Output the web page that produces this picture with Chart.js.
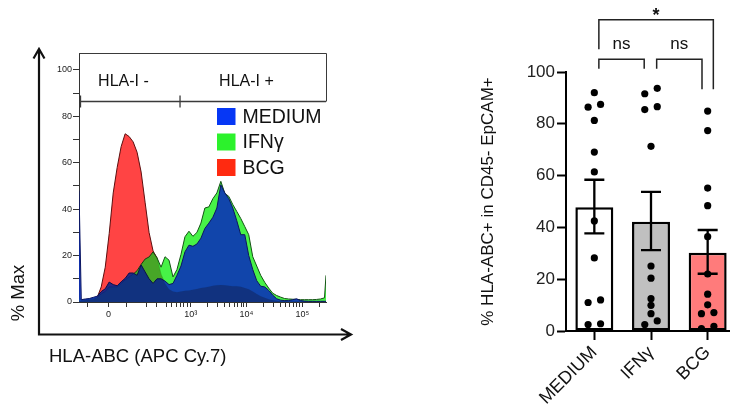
<!DOCTYPE html>
<html>
<head>
<meta charset="utf-8">
<script src="https://cdn.jsdelivr.net/npm/chart.js@4.4.1/dist/chart.umd.min.js"></script>
<style>
  html, body { margin: 0; padding: 0; width: 730px; height: 414px; overflow: hidden; background: #fff; }
  #hist { position: absolute; left: 0; top: 0; }
  #bars { position: absolute; left: 470px; top: 0; }
</style>
</head>
<body>
<canvas id="hist" width="360" height="414"></canvas>
<canvas id="bars" width="270" height="414"></canvas>
<script>
// ---------- left: HLA-ABC histogram overlay ----------
// x in display decades of the logicle axis (0 sits near 1.53, 10^3 at 3)
const histX = [1.0, 1.041, 1.113, 1.184, 1.255, 1.327, 1.398, 1.470, 1.541, 1.613, 1.684, 1.755, 1.827, 1.898, 1.970, 2.041,
  2.113, 2.184, 2.255, 2.327, 2.398, 2.470, 2.541, 2.613, 2.684, 2.755, 2.827, 2.898, 2.970, 3.041, 3.113, 3.184,
  3.255, 3.327, 3.398, 3.470, 3.541, 3.613, 3.684, 3.755, 3.827, 3.898, 3.970, 4.041, 4.113, 4.184, 4.255, 4.327,
  4.398, 4.470, 4.541, 4.613, 4.684, 4.755, 4.827, 4.898, 4.970, 5.041, 5.113, 5.184, 5.255, 5.327, 5.398, 5.425];
const histMedium = [48, 1.0, 1.3, 1.5, 2.0, 2.5, 4.5, 5.7, 8.6, 7.5, 7.0, 8.7, 10.2, 12.5, 12.5, 11.5,
  16.0, 13.0, 10.0, 8.0, 10.0, 10.0, 9.0, 7.5, 8.0, 11.5, 15.5, 21.6, 24.5, 24.0, 25.0, 27.5,
  31.7, 34.0, 36.5, 40.5, 50.5, 47.0, 44.5, 40.5, 35.0, 29.0, 29.0, 20.0, 14.0, 9.2, 6.8, 6.5,
  5.0, 3.0, 1.4, 0.8, 0.6, 0.6, 1.0, 1.4, 0.6, 0.4, 0.3, 0.3, 0.3, 0.3, 0.3, 0.3];
const histIfng = [2.0, 0.8, 1.0, 1.2, 1.5, 2.0, 3.5, 4.5, 6.5, 6.5, 6.5, 8.0, 9.5, 10.8, 12.0, 13.5,
  16.2, 18.5, 19.4, 21.6, 19.0, 15.0, 19.5, 18.0, 10.8, 14.0, 20.5, 28.1, 30.5, 28.3, 30.0, 34.0,
  40.5, 41.0, 44.5, 47.0, 52.0, 46.8, 45.5, 42.0, 39.0, 36.0, 32.5, 29.0, 19.5, 15.5, 11.5, 8.5,
  6.0, 3.8, 2.8, 2.1, 1.5, 1.3, 1.2, 1.1, 1.0, 1.0, 1.0, 1.0, 1.1, 1.3, 1.8, 11.5];
const histBcg = [0.3, 0.5, 0.8, 1.0, 1.2, 2.0, 6.5, 15, 29.5, 47, 58, 67, 72.5, 71.3, 69, 64.5,
  56, 43, 30, 22, 19, 12, 8, 5.5, 4.5, 4.2, 4.5, 4.8, 5.0, 5.3, 5.6, 6.0,
  6.3, 6.6, 7.0, 7.2, 7.3, 7.2, 7.0, 6.8, 6.8, 6.6, 6.0, 5.5, 4.5, 3.5, 2.5, 1.8,
  1.2, 0.8, 0.5, 0.3, 0.3, 0.2, 0.2, 0.2, 0.2, 0.2, 0.2, 0.2, 0.2, 0.2, 0.2, 0.2];
const histXTicks = [1.154, 1.529, 1.857, 2.214, 2.393, 2.571, 2.661, 2.75, 2.821, 2.88, 2.939, 3,
  3.301, 3.477, 3.602, 3.699, 3.778, 3.845, 3.903, 3.954, 4,
  4.301, 4.477, 4.602, 4.699, 4.778, 4.845, 4.903, 4.954, 5, 5.301];
const histXTickLabels = ['', '0', '', '', '', '', '', '', '', '', '', '10³',
  '', '', '', '', '', '', '', '', '10⁴',
  '', '', '', '', '', '', '', '', '10⁵', ''];
const histYTicks = [0, 10, 20, 30, 40, 50, 60, 70, 80, 90, 100];
const histYTickLabels = ['0', '', '20', '', '40', '', '60', '', '80', '', '100'];
const gateNames = ['HLA-I -', 'HLA-I +'];

// ---------- right: bar chart ----------
const groups = ['MEDIUM', 'IFNγ', 'BCG'];
const groupMean = [47.8, 42.2, 30.2];
const groupSemHigh = [58.4, 53.7, 39.0];
const groupSemLow = [37.7, 31.2, 22.1];
const ptsMedium = [92.0, 86.4, 87.5, 81.3, 69.1, 61.4, 42.5, 28.2, 11.0, 12.0, 2.5, 2.8];
const ptsIfng = [91.6, 93.7, 85.5, 86.6, 71.3, 25.1, 20.4, 12.5, 9.9, 6.7, 2.5, 3.9];
const ptsBcg = [84.9, 77.4, 55.2, 48.4, 36.4, 22.0, 14.2, 10.1, 6.7, 7.1, 0.9, 1.8];
// which side of the column a dot is nudged to (-1 left, 0 centre, 1 right)
const sideMedium = [0, -1, 1, 0, 0, 0, 0, 0, -1, 1, -1, 1];
const sideIfng = [-1, 1, -1, 1, 0, 0, 0, 0, 0, 0, -1, 1];
const sideBcg = [0, 0, 0, 0, 0, 0, 0, 0, -1, 1, -1, 1];

const JITTER = 0.11;
const FONT = "'Liberation Sans', Arial, sans-serif";
Chart.defaults.font.family = FONT;

const histDecor = {
  id: 'histDecor',
  // the BCG shade (dataset 0) is laid over the others in multiply mode,
  // so overlaps darken the way the cytometry overlay does
  afterDatasetDraw(chart, args) {
    if (args.index === 1) chart.ctx.globalCompositeOperation = 'multiply';
    if (args.index === 0) chart.ctx.globalCompositeOperation = 'source-over';
  },
  afterDatasetsDraw(chart) {
    const { ctx, chartArea: a, scales: { x, y } } = chart;
    ctx.save();
    ctx.globalCompositeOperation = 'source-over';
    const gy = Math.round(y.getPixelForValue(86.8)) + 0.5;
    // frame top / right
    ctx.strokeStyle = '#3a3a3a';
    ctx.lineWidth = 1;
    ctx.beginPath();
    ctx.moveTo(a.left, Math.round(a.top) + 0.5);
    ctx.lineTo(Math.round(a.right) + 0.5, Math.round(a.top) + 0.5);
    ctx.lineTo(Math.round(a.right) + 0.5, gy);
    ctx.stroke();
    // gate line
    ctx.lineWidth = 1.3;
    ctx.beginPath();
    ctx.moveTo(a.left + 1.5, gy);
    ctx.lineTo(a.right, gy);
    [a.left + 1.5, x.getPixelForValue(2.81)].forEach(px => {
      ctx.moveTo(px, gy - 6);
      ctx.lineTo(px, gy + 6);
    });
    ctx.stroke();
    ctx.fillStyle = '#111';
    ctx.font = '16px ' + FONT;
    ctx.textAlign = 'center';
    ctx.textBaseline = 'middle';
    ctx.fillText(gateNames[0], x.getPixelForValue(1.796), y.getPixelForValue(95));
    ctx.fillText(gateNames[1], x.getPixelForValue(4.0), y.getPixelForValue(95));
    // legend
    ctx.font = '19.5px ' + FONT;
    ctx.textAlign = 'left';
    chart.data.datasets.filter(ds => ds.swatch).forEach((ds, i) => {
      const cy = a.top + 63.5 + i * 25.5;
      ctx.fillStyle = ds.swatch;
      ctx.fillRect(a.left + 138, cy - 8.5, 18.5, 17);
      ctx.fillStyle = '#111';
      ctx.fillText(ds.label, a.left + 163.5, cy + 1);
    });
    ctx.restore();
  },
  afterDraw(chart) {
    const ctx = chart.ctx;
    ctx.save();
    ctx.strokeStyle = '#111';
    ctx.lineWidth = 2.2;
    ctx.beginPath();
    ctx.moveTo(39, 49);
    ctx.lineTo(39, 334.5);
    ctx.lineTo(351, 334.5);
    ctx.moveTo(33.5, 58.5); ctx.lineTo(39, 49); ctx.lineTo(44.5, 58.5);
    ctx.moveTo(341, 329); ctx.lineTo(351, 334.5); ctx.lineTo(341, 340);
    ctx.stroke();
    ctx.fillStyle = '#111';
    ctx.font = '18.5px ' + FONT;
    ctx.textBaseline = 'middle';
    ctx.textAlign = 'left';
    ctx.fillText('HLA-ABC (APC Cy.7)', 49, 357);
    ctx.translate(19, 293);
    ctx.rotate(-Math.PI / 2);
    ctx.textAlign = 'center';
    ctx.fillText('% Max', 0, 0);
    ctx.restore();
  }
};

const toPoints = arr => histX.map((v, i) => ({ x: v, y: arr[i] }));

new Chart(document.getElementById('hist'), {
  type: 'line',
  data: {
    datasets: [
      { label: 'BCG shade', data: toPoints(histBcg), fill: 'origin', borderWidth: 0,
        backgroundColor: 'rgba(255,71,71,0.35)' },
      { label: 'MEDIUM', data: toPoints(histMedium), fill: 'origin',
        backgroundColor: 'rgba(10,45,185,0.88)', borderColor: '#0b1560', swatch: '#0637f5' },
      { label: 'IFNγ', data: toPoints(histIfng), fill: 'origin',
        backgroundColor: 'rgba(45,240,45,0.88)', borderColor: '#145214', swatch: '#2cf22c' },
      { label: 'BCG', data: toPoints(histBcg), fill: 'origin',
        backgroundColor: '#ff5a5a', borderColor: '#5a1010', swatch: '#ff2a10' }
    ]
  },
  options: {
    responsive: false,
    animation: false,
    events: [],
    layout: { padding: { left: 0, top: 53, right: 34, bottom: 82 } },
    plugins: { legend: { display: false }, tooltip: { enabled: false } },
    elements: { point: { radius: 0 }, line: { borderWidth: 1, tension: 0 } },
    scales: {
      x: {
        type: 'linear', min: 1.0, max: 5.425,
        afterBuildTicks: s => { s.ticks = histXTicks.map(v => ({ value: v })); },
        afterFit: s => { s.height = 30; },
        ticks: { autoSkip: false, maxRotation: 0, padding: 2, font: { size: 9 }, color: '#222',
          callback: (v, i) => histXTickLabels[i] },
        grid: { drawOnChartArea: false, tickLength: 5, tickColor: '#333' },
        border: { color: '#333', width: 1 }
      },
      y: {
        min: 0, max: 107.3,
        afterBuildTicks: s => { s.ticks = histYTicks.map(v => ({ value: v })); },
        afterFit: s => { s.width = 79; },
        ticks: { padding: 1, font: { size: 9 }, color: '#222', callback: (v, i) => histYTickLabels[i] },
        grid: { drawOnChartArea: false, tickLength: 6, tickColor: '#333' },
        border: { color: '#333', width: 1 }
      }
    }
  },
  plugins: [histDecor]
});

// ---------- bar chart ----------
const brackets = [
  { from: 0.08, to: 0.88, level: 104.9, endFrom: 101.3, endTo: 101.3, text: 'ns' },
  { from: 1.1, to: 1.9, level: 104.9, endFrom: 101.3, endTo: 93.3, text: 'ns' },
  { from: 0.08, to: 2.1, level: 120.2, endFrom: 108.8, endTo: 93.3, text: '*' }
];

const dots = [];
[[ptsMedium, sideMedium], [ptsIfng, sideIfng], [ptsBcg, sideBcg]].forEach(([vals, side], g) => {
  vals.forEach((v, k) => dots.push({ x: g + side[k] * JITTER, y: v }));
});

const barDecor = {
  id: 'barDecor',
  afterDatasetsDraw(chart) {
    const { ctx, scales: { x, xj, y } } = chart;
    ctx.save();
    ctx.strokeStyle = '#000';
    ctx.lineWidth = 2.3;
    groupMean.forEach((m, i) => {
      const px = x.getPixelForValue(i);
      const hi = y.getPixelForValue(groupSemHigh[i]);
      const lo = y.getPixelForValue(groupSemLow[i]);
      ctx.beginPath();
      ctx.moveTo(px, hi); ctx.lineTo(px, lo);
      ctx.moveTo(px - 10, hi); ctx.lineTo(px + 10, hi);
      ctx.moveTo(px - 10, lo); ctx.lineTo(px + 10, lo);
      ctx.stroke();
    });
    ctx.strokeStyle = '#222';
    ctx.lineWidth = 1.5;
    ctx.fillStyle = '#111';
    ctx.textAlign = 'center';
    ctx.textBaseline = 'alphabetic';
    brackets.forEach(b => {
      const xa = xj.getPixelForValue(b.from), xb = xj.getPixelForValue(b.to);
      const yt = y.getPixelForValue(b.level);
      ctx.beginPath();
      ctx.moveTo(xa, y.getPixelForValue(b.endFrom));
      ctx.lineTo(xa, yt);
      ctx.lineTo(xb, yt);
      ctx.lineTo(xb, y.getPixelForValue(b.endTo));
      ctx.stroke();
      if (b.text === '*') {
        ctx.font = 'bold 18px ' + FONT;
        ctx.fillText(b.text, (xa + xb) / 2, yt + 1.5);
      } else {
        ctx.font = '17px ' + FONT;
        ctx.fillText(b.text, (xa + xb) / 2, yt - 10);
      }
    });
    ctx.restore();
  }
};

new Chart(document.getElementById('bars'), {
  type: 'bar',
  data: {
    labels: groups,
    datasets: [
      { type: 'scatter', xAxisID: 'xj', order: 0, data: dots, pointRadius: 3.6,
        pointBackgroundColor: '#000', pointBorderWidth: 0 },
      { type: 'bar', order: 1, data: groupMean, backgroundColor: ['#ffffff', '#c0c0c0', '#ff7b7b'],
        borderColor: '#000', borderWidth: 2.5, borderSkipped: false, grouped: false,
        barPercentage: 0.67, categoryPercentage: 1 }
    ]
  },
  options: {
    responsive: false,
    animation: false,
    events: [],
    layout: { padding: { left: 4, top: 72, right: 3, bottom: 0 } },
    plugins: { legend: { display: false }, tooltip: { enabled: false } },
    scales: {
      x: {
        offset: true,
        afterFit: s => { s.height = 83; },
        ticks: { font: { size: 18 }, color: '#111', minRotation: 45, maxRotation: 45, padding: 2, autoSkip: false },
        grid: { offset: false, drawOnChartArea: false, tickLength: 9, tickWidth: 2, tickColor: '#000' },
        border: { width: 2, color: '#000' }
      },
      xj: { type: 'linear', display: false, offset: false, min: -0.5, max: 2.5 },
      y: {
        min: 0, max: 100,
        afterFit: s => { s.width = 92; },
        ticks: { stepSize: 20, font: { size: 17 }, color: '#222', padding: 2 },
        grid: { drawOnChartArea: false, tickLength: 9, tickWidth: 2, tickColor: '#000' },
        border: { width: 2, color: '#000' },
        title: { display: true, text: '% HLA-ABC+ in CD45- EpCAM+', font: { size: 17 }, color: '#111',
          padding: { top: 4, bottom: 4 } }
      }
    }
  },
  plugins: [barDecor]
});
</script>
</body>
</html>
